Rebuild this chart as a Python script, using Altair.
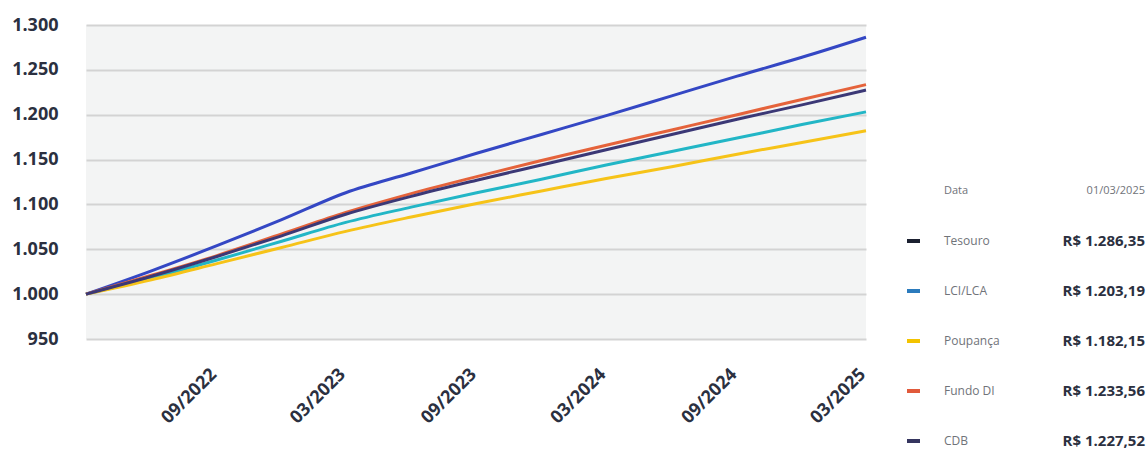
import altair as alt
import pandas as pd

# Quarterly values of R$ 1.000 invested on 01/03/2022
dates = [
    "2022-03-01", "2022-06-01", "2022-09-01", "2022-12-01",
    "2023-03-01", "2023-06-01", "2023-09-01", "2023-12-01",
    "2024-03-01", "2024-06-01", "2024-09-01", "2024-12-01",
    "2025-03-01",
]
tesouro = [1000, 1026, 1054, 1083, 1113, 1135, 1157, 1178, 1199, 1221, 1243, 1264, 1286.35]
lci_lca = [1000, 1018, 1038, 1059, 1080, 1097, 1113, 1128, 1144, 1159, 1174, 1189, 1203.19]
poupanca = [1000, 1016, 1034, 1052, 1070, 1086, 1101, 1115, 1129, 1142, 1156, 1169, 1182.15]
fundo_di = [1000, 1021, 1043, 1067, 1091, 1112, 1131, 1149, 1166, 1183, 1200, 1217, 1233.56]
cdb = [1000, 1020, 1042, 1065, 1089, 1109, 1127, 1144, 1161, 1178, 1195, 1211, 1227.52]

series_names = ["Tesouro", "LCI/LCA", "Poupança", "Fundo DI", "CDB"]
series_values = [tesouro, lci_lca, poupanca, fundo_di, cdb]
line_colors = ["#3447c4", "#22b6c6", "#f6c318", "#e5633b", "#3b3876"]
swatch_colors = ["#1b2030", "#2b7bbd", "#f3c300", "#e15a3b", "#35355f"]

y_ticks = [950, 1000, 1050, 1100, 1150, 1200, 1250, 1300]
x_ticks = [(2022, 9), (2023, 3), (2023, 9), (2024, 3), (2024, 9), (2025, 3)]

reference_date = "01/03/2025"

FONT = "Open Sans"
DARK = "#2b3040"
GREY = "#707379"


def brl(v):
    s = f"{v:,.2f}".replace(",", "_").replace(".", ",").replace("_", ".")
    return f"R$ {s}"


records = []
for name, vals in zip(series_names, series_values):
    for d, v in zip(dates, vals):
        records.append({"data": d, "serie": name, "valor": v})
df = pd.DataFrame(records)

x_scale = alt.Scale(
    type="utc",
    domain=[alt.DateTime(year=2022, month=3, date=1, utc=True),
            alt.DateTime(year=2025, month=3, date=1, utc=True)],
)

lines = alt.Chart(df).mark_line(strokeWidth=3, interpolate="monotone").encode(
    x=alt.X(
        "data:T",
        scale=x_scale,
        axis=alt.Axis(
            values=[alt.DateTime(year=y, month=m, date=1, utc=True) for y, m in x_ticks],
            labelExpr="utcFormat(datum.value, '%m/%Y')",
            labelAngle=-45,
            labelAlign="right",
            labelBaseline="alphabetic",
            labelFont=FONT,
            labelFontWeight="bold",
            labelFontSize=18,
            labelColor=DARK,
            labelPadding=36,
            labelOverlap=False,
            labelFlush=False,
            ticks=False,
            domain=False,
            grid=False,
            title=None,
        ),
    ),
    y=alt.Y(
        "valor:Q",
        scale=alt.Scale(domain=[950, 1300], nice=False, zero=False),
        axis=alt.Axis(
            values=y_ticks,
            labelExpr="replace(format(datum.value, ','), ',', '.')",
            labelFont=FONT,
            labelFontWeight="bold",
            labelFontSize=18,
            labelColor=DARK,
            labelPadding=28,
            ticks=False,
            domain=False,
            grid=True,
            gridColor="#d3d3d3",
            gridWidth=2,
            title=None,
        ),
    ),
    color=alt.Color(
        "serie:N",
        scale=alt.Scale(domain=series_names, range=line_colors),
        legend=None,
    ),
).properties(
    width=780,
    height=314,
    view=alt.ViewBackground(fill="#f3f4f4", stroke=None),
)

# Side table: last value of each investment
legend_rows = ["Data"] + series_names
table = pd.DataFrame({
    "linha": series_names,
    "valor_txt": [brl(v[-1]) for v in series_values],
})
header = pd.DataFrame({"linha": ["Data"], "rotulo": ["Data"], "data_txt": [reference_date]})

row_y = alt.Y(
    "linha:N",
    scale=alt.Scale(type="point", domain=legend_rows, range=[166, 416], padding=0),
    axis=None,
)

swatches = alt.Chart(table).mark_rule(strokeWidth=4).encode(
    x=alt.value(20),
    x2=alt.value(33),
    y=row_y,
    stroke=alt.Stroke("linha:N", scale=alt.Scale(domain=series_names, range=swatch_colors), legend=None),
)
names = alt.Chart(table).mark_text(
    align="left", baseline="middle", font=FONT, fontSize=12, color=GREY
).encode(x=alt.value(57), y=row_y, text="linha:N")
values = alt.Chart(table).mark_text(
    align="right", baseline="middle", font=FONT, fontSize=15, fontWeight="bold", color=DARK
).encode(x=alt.value(258), y=row_y, text="valor_txt:N")
head_left = alt.Chart(header).mark_text(
    align="left", baseline="middle", font=FONT, fontSize=11, color=GREY
).encode(x=alt.value(57), y=row_y, text="rotulo:N")
head_right = alt.Chart(header).mark_text(
    align="right", baseline="middle", font=FONT, fontSize=11, color=GREY
).encode(x=alt.value(258), y=row_y, text="data_txt:N")

side = alt.layer(swatches, names, values, head_left, head_right).properties(
    width=260, height=420
)

chart = alt.hconcat(lines, side, spacing=21, bounds="flush").configure(
    padding={"left": 11, "top": 16, "right": 0, "bottom": 0},
    background="white",
).configure_view(stroke=None)

chart.save("out.html", embed_options={"renderer": "svg", "actions": False})
